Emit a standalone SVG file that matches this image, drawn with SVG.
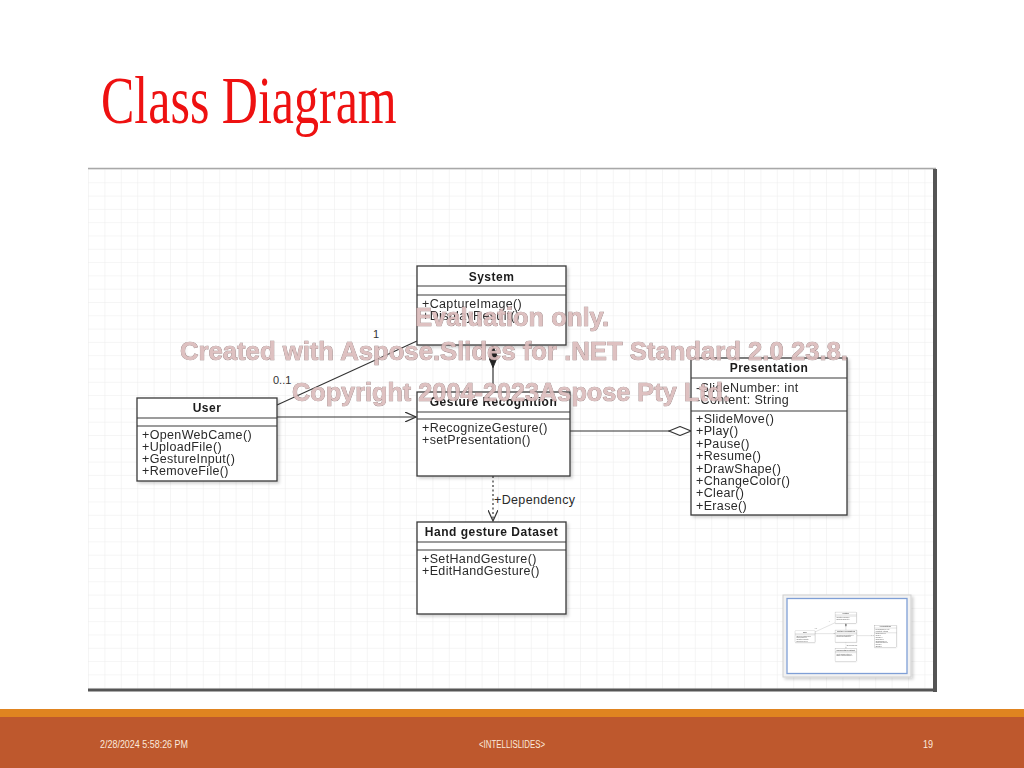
<svg xmlns="http://www.w3.org/2000/svg" xmlns:xlink="http://www.w3.org/1999/xlink" width="1024" height="768" viewBox="0 0 1024 768">
  <style>
    .box { fill: #ffffff; stroke: #3a3a3a; stroke-width: 1.3; }
    .div { stroke: #3a3a3a; stroke-width: 1.2; }
    .hdr { font-family: "Liberation Sans", Arial, sans-serif; font-size: 12px; font-weight: bold; letter-spacing: 0.5px; fill: #1a1a1a; text-anchor: middle; }
    .mem { font-family: "Liberation Sans", Arial, sans-serif; font-size: 12.5px; letter-spacing: 0.35px; fill: #2a2a2a; }
    .lbl { font-family: "Liberation Sans", Arial, sans-serif; font-size: 11px; fill: #333333; }
    .edge { fill: none; stroke: #333333; stroke-width: 1.2; }
    .wm { font-family: "Liberation Sans", Arial, sans-serif; font-weight: bold; font-size: 26px; fill: #dcbcbc; stroke: #8c7474; stroke-width: 0.7; paint-order: stroke; opacity: 0.92; }
    .foot { font-family: "Liberation Sans Narrow", "Liberation Sans", Arial, sans-serif; font-size: 10px; fill: #fbe9dc; }
  </style>
  <defs>
    <pattern id="grid" x="88" y="169" width="16.4" height="13.3" patternUnits="userSpaceOnUse">
      <path d="M 16.4 0 L 0 0 0 13.3" fill="none" stroke="#ebebeb" stroke-width="1"/>
    </pattern>
    <filter id="shadow" x="-10%" y="-10%" width="130%" height="130%">
      <feDropShadow dx="2" dy="2" stdDeviation="1.5" flood-color="#000000" flood-opacity="0.18"/>
    </filter>
    <marker id="open" viewBox="0 0 12 10" refX="11" refY="5" markerWidth="12" markerHeight="10" markerUnits="userSpaceOnUse" orient="auto">
      <path d="M 0 0 L 11 5 L 0 10" fill="none" stroke="#333333" stroke-width="1.2"/>
    </marker>
    <marker id="filledDiamond" viewBox="0 0 24 10" refX="0" refY="5" markerWidth="24" markerHeight="9" markerUnits="userSpaceOnUse" orient="auto">
      <path d="M 0 5 L 12 0 L 24 5 L 12 10 Z" fill="#222222" stroke="#222222" stroke-width="1"/>
    </marker>
    <marker id="hollowDiamond" viewBox="0 0 24 10" refX="23" refY="5" markerWidth="24" markerHeight="10" markerUnits="userSpaceOnUse" orient="auto">
      <path d="M 1 5 L 12 0.5 L 23 5 L 12 9.5 Z" fill="#ffffff" stroke="#333333" stroke-width="1.1"/>
    </marker>
  </defs>

  <!-- slide background and title -->
  <rect x="0" y="0" width="1024" height="768" fill="#ffffff"/>
  <text transform="translate(101,123) scale(1,1.36)" font-family="'Liberation Serif', 'Times New Roman', serif" font-size="50" fill="#ee1111">Class Diagram</text>

  <!-- screenshot panel -->
  <rect x="88" y="169" width="846" height="520" fill="#ffffff"/>
  <rect x="88" y="169" width="846" height="520" fill="url(#grid)"/>
  <line x1="88" y1="168.5" x2="936" y2="168.5" stroke="#a8a8a8" stroke-width="1.5"/>
  <rect x="933" y="169" width="4" height="523" fill="#555555"/>
  <rect x="88" y="688.5" width="849" height="3" fill="#555555"/>

  <g id="diagram">
    <!-- connectors -->
    <g id="connectors">
      <line class="edge" x1="277" y1="405" x2="417" y2="341"/>
      <text class="lbl" x="373" y="338">1</text>
      <text class="lbl" x="273" y="384">0..1</text>
      <line class="edge" x1="277" y1="417" x2="416" y2="417" marker-end="url(#open)"/>
      <line class="edge" x1="493" y1="346" x2="493" y2="392" marker-start="url(#filledDiamond)"/>
      <line class="edge" x1="570" y1="431" x2="691" y2="431" marker-end="url(#hollowDiamond)"/>
      <line class="edge" x1="493" y1="476" x2="493" y2="521" stroke-dasharray="2,2.5" marker-end="url(#open)"/>
      <text class="mem" x="494" y="504">+Dependency</text>
    </g>

    <g id="system" filter="url(#shadow)">
      <rect class="box" x="417" y="266" width="149" height="79"/>
      <line class="div" x1="417" y1="286" x2="566" y2="286"/>
      <line class="div" x1="417" y1="295" x2="566" y2="295"/>
      <text class="hdr" x="491.5" y="281">System</text>
      <text class="mem" x="422" y="308">+CaptureImage()</text>
      <text class="mem" x="422" y="320">+DisplayResult()</text>
    </g>

    <g id="user" filter="url(#shadow)">
      <rect class="box" x="137" y="398" width="140" height="83"/>
      <line class="div" x1="137" y1="418" x2="277" y2="418"/>
      <line class="div" x1="137" y1="426" x2="277" y2="426"/>
      <text class="hdr" x="207" y="412">User</text>
      <text class="mem" x="142" y="439">+OpenWebCame()</text>
      <text class="mem" x="142" y="451">+UploadFile()</text>
      <text class="mem" x="142" y="463">+GestureInput()</text>
      <text class="mem" x="142" y="475">+RemoveFile()</text>
    </g>

    <g id="gesture-recognition" filter="url(#shadow)">
      <rect class="box" x="417" y="392" width="153" height="84"/>
      <line class="div" x1="417" y1="412" x2="570" y2="412"/>
      <line class="div" x1="417" y1="419" x2="570" y2="419"/>
      <text class="hdr" x="493.5" y="406">Gesture Recognition</text>
      <text class="mem" x="422" y="432">+RecognizeGesture()</text>
      <text class="mem" x="422" y="444">+setPresentation()</text>
    </g>

    <g id="presentation" filter="url(#shadow)">
      <rect class="box" x="691" y="358" width="156" height="157"/>
      <line class="div" x1="691" y1="378" x2="847" y2="378"/>
      <line class="div" x1="691" y1="411" x2="847" y2="411"/>
      <text class="hdr" x="769" y="372">Presentation</text>
      <text class="mem" x="696" y="392">-SlideNumber: int</text>
      <text class="mem" x="696" y="404">-Content: String</text>
      <text class="mem" x="696" y="423">+SlideMove()</text>
      <text class="mem" x="696" y="435.4">+Play()</text>
      <text class="mem" x="696" y="447.8">+Pause()</text>
      <text class="mem" x="696" y="460.2">+Resume()</text>
      <text class="mem" x="696" y="472.6">+DrawShape()</text>
      <text class="mem" x="696" y="485">+ChangeColor()</text>
      <text class="mem" x="696" y="497.4">+Clear()</text>
      <text class="mem" x="696" y="509.8">+Erase()</text>
    </g>

    <g id="hand-gesture-dataset" filter="url(#shadow)">
      <rect class="box" x="417" y="522" width="149" height="92"/>
      <line class="div" x1="417" y1="542" x2="566" y2="542"/>
      <line class="div" x1="417" y1="550" x2="566" y2="550"/>
      <text class="hdr" x="491.5" y="536">Hand gesture Dataset</text>
      <text class="mem" x="422" y="563">+SetHandGesture()</text>
      <text class="mem" x="422" y="575">+EditHandGesture()</text>
    </g>
  </g>

  <!-- overview thumbnail -->
  <g id="overview">
    <rect x="783" y="595" width="128" height="82" fill="#f2f2f2" stroke="#d0d0d0" stroke-width="1" filter="url(#shadow)"/>
    <rect x="787" y="598.5" width="120" height="75" fill="#ffffff" stroke="#7f9fd6" stroke-width="1.3"/>
    <use xlink:href="#diagram" href="#diagram" transform="translate(775.4,574) scale(0.143)" opacity="0.8"/>
  </g>

  <!-- evaluation watermark -->
  <g id="watermark">
    <text class="wm" x="415" y="326" textLength="194" lengthAdjust="spacingAndGlyphs">Evaluation only.</text>
    <text class="wm" x="180" y="360" textLength="668" lengthAdjust="spacingAndGlyphs">Created with Aspose.Slides for .NET Standard 2.0 23.8.</text>
    <text class="wm" x="292" y="401" textLength="438" lengthAdjust="spacingAndGlyphs">Copyright 2004-2023Aspose Pty Ltd.</text>
  </g>

  <!-- footer bands -->
  <rect x="0" y="709" width="1024" height="8" fill="#e08420"/>
  <rect x="0" y="717" width="1024" height="51" fill="#be582d"/>
  <text class="foot" x="100" y="748" textLength="88" lengthAdjust="spacingAndGlyphs">2/28/2024 5:58:26 PM</text>
  <text class="foot" x="479" y="748" textLength="66" lengthAdjust="spacingAndGlyphs">&lt;INTELLISLIDES&gt;</text>
  <text class="foot" x="923" y="748" textLength="10" lengthAdjust="spacingAndGlyphs">19</text>
</svg>
